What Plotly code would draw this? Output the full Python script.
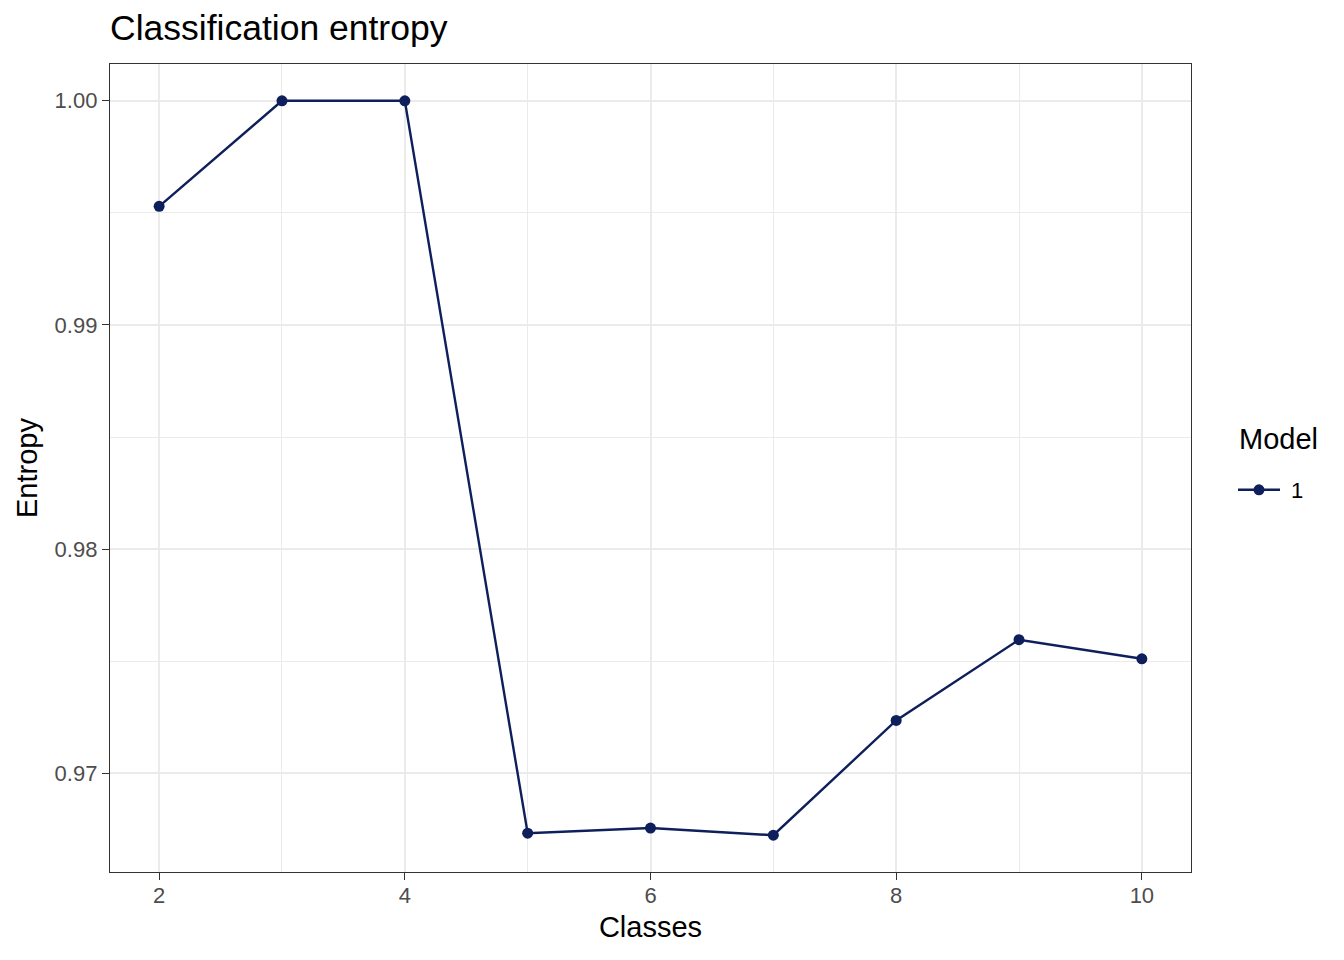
import plotly.graph_objects as go

# values
classes = [2, 3, 4, 5, 6, 7, 8, 9, 10]
entropy = [0.99529, 1.00000, 1.00000, 0.96733, 0.96756, 0.96724, 0.97236, 0.97596, 0.97511]
model_label = "1"

NAVY = "#0e1f5b"
GRID = "#ebebeb"
FONT = "Liberation Sans, Arial, sans-serif"

# page body adds an 8px margin, so the figure is made a bit smaller
W, H = 1336, 952
L, R, T, B = 102, 153, 56, 88
plot_w = W - L - R
plot_h = H - T - B

fig = go.Figure()

fig.add_trace(go.Scatter(
    x=classes,
    y=entropy,
    mode="lines+markers",
    name="\u00a0" + model_label,  # small extra gap between key and label
    line=dict(color=NAVY, width=2.4),
    marker=dict(color=NAVY, size=11),
))

axis_common = dict(
    showline=True,
    linecolor="#333333",
    linewidth=1.4,
    mirror=True,
    ticks="outside",
    ticklen=7,
    tickwidth=1.4,
    tickcolor="#333333",
    tickfont=dict(size=22, color="#4d4d4d", family=FONT),
    gridcolor=GRID,
    gridwidth=2.4,
    zeroline=False,
)

# legend title drawn as text so the gap to the key matches
fig.add_annotation(
    text="Model",
    xref="paper", yref="paper",
    x=(1237 - 110) / plot_w, xanchor="left",
    y=(plot_h + T - 431) / plot_h, yanchor="middle",
    showarrow=False,
    font=dict(size=29, color="black", family=FONT),
)

fig.update_layout(
    width=W,
    height=H,
    paper_bgcolor="white",
    plot_bgcolor="white",
    font=dict(family=FONT, color="black"),
    margin=dict(l=L, r=R, t=T, b=B),
    title=dict(
        text="Classification entropy",
        font=dict(size=35.5, color="black", family=FONT),
        x=L / W, xref="container", xanchor="left",
        y=1 - 20 / H, yref="container", yanchor="middle",
    ),
    xaxis=dict(
        **axis_common,
        range=[1.6, 10.4],
        tick0=2, dtick=2,
        ticklabelstandoff=-4,
        minor=dict(dtick=1, tick0=2, showgrid=True, gridcolor=GRID, gridwidth=1.2, ticks=""),
        title=dict(text="Classes", font=dict(size=29, family=FONT), standoff=10),
    ),
    yaxis=dict(
        **axis_common,
        range=[0.96560, 1.00164],
        tick0=0.97, dtick=0.01,
        tickformat=".2f",
        minor=dict(dtick=0.005, tick0=0.97, showgrid=True, gridcolor=GRID, gridwidth=1.2, ticks=""),
        title=dict(text="Entropy", font=dict(size=29, family=FONT), standoff=8),
    ),
    legend=dict(
        font=dict(size=22, family=FONT),
        x=(1233 - 110) / plot_w, xanchor="left",
        y=(plot_h + T - 482) / plot_h, yanchor="middle",
        itemwidth=42,
        bgcolor="rgba(0,0,0,0)",
    ),
    showlegend=True,
)

fig.write_html("out.html")
